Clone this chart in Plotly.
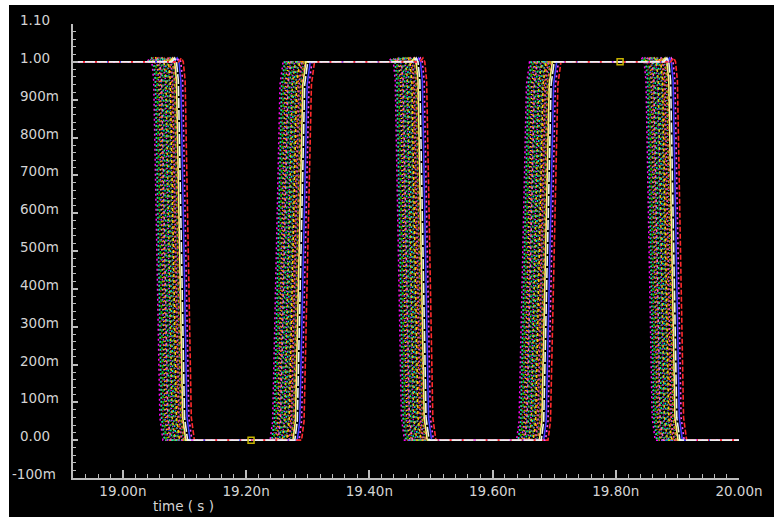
import plotly.graph_objects as go

# ---- data ----
t_start = 18.919
t_end = 20.0
edge_types = ["fall", "rise", "fall", "rise", "fall"]
edge_times = [19.047, 19.239, 19.439, 19.639, 19.846]   # ns, earliest trace
fall_dt = [-0.008, -0.003, 0.0, 0.003, 0.013, 0.018]
fall_v = [1.0, 1.01, 1.0, 0.95, 0.06, 0.0]
rise_dt = [0.0, 0.004, 0.016, 0.021, 0.026]
rise_v = [0.0, 0.05, 0.94, 1.0, 1.0]

fuzz_offsets = [0.000, 0.002, 0.003, 0.005, 0.006, 0.008, 0.009, 0.011, 0.012,
                0.013, 0.015, 0.016, 0.018, 0.019, 0.020, 0.022, 0.023, 0.025,
                0.026, 0.027, 0.029, 0.030, 0.031, 0.033, 0.034, 0.036]
fuzz_colors = ["#ff00ff", "#c8b400", "#00d0d0", "#ff3030", "#00c000", "#a040ff",
               "#ffff00", "#ff8000", "#2060ff", "#ff60c0", "#00ff80", "#b06000",
               "#00a0a0", "#ff00ff", "#d0d000", "#00e0e0", "#e02020", "#40d040",
               "#8040ff", "#ffd000", "#ff7000", "#4080ff", "#ff40a0", "#20c0a0",
               "#c09000", "#ff00c0"]
fuzz_dashes = ["2px,3px", "1px,3px", "2px,2px", "1px,2px", "3px,3px"]

solid_offsets = [0.037, 0.044, 0.047, 0.051, 0.040]
solid_colors = ["#f4f46a", "#3c3cff", "#ff50ff", "#ff2a2a", "#f0f0f0"]
solid_dashes = ["solid", "solid", "2px,3px", "5px,2px", "10px,2px"]

marker_x = [19.208, 19.807]
marker_y = [0.0, 1.0]

x_tick_vals = [19.0, 19.2, 19.4, 19.6, 19.8, 20.0]
x_tick_text = ["19.00n", "19.20n", "19.40n", "19.60n", "19.80n", "20.00n"]
y_tick_vals = [-0.1, 0.0, 0.1, 0.2, 0.3, 0.4, 0.5, 0.6, 0.7, 0.8, 0.9, 1.0, 1.1]
y_tick_text = ["-100m", "0.00", "100m", "200m", "300m", "400m", "500m",
               "600m", "700m", "800m", "900m", "1.00", "1.10"]
x_title = "time ( s )"


def wave(off):
    xs = [t_start]
    ys = [1.0]
    for typ, t0 in zip(edge_types, edge_times):
        dts, vs = (fall_dt, fall_v) if typ == "fall" else (rise_dt, rise_v)
        for dt, v in zip(dts, vs):
            xs.append(t0 + off + dt)
            ys.append(v)
    xs.append(t_end)
    ys.append(0.0)
    return xs, ys


fig = go.Figure()
for i, off in enumerate(fuzz_offsets):
    xs, ys = wave(off)
    fig.add_trace(go.Scatter(x=xs, y=ys, mode="lines",
                             line=dict(color=fuzz_colors[i % len(fuzz_colors)], width=1.5,
                                       dash=fuzz_dashes[i % len(fuzz_dashes)]),
                             hoverinfo="skip", showlegend=False))
for off, c, d in zip(solid_offsets, solid_colors, solid_dashes):
    xs, ys = wave(off)
    fig.add_trace(go.Scatter(x=xs, y=ys, mode="lines",
                             line=dict(color=c, width=1.6, dash=d),
                             hoverinfo="skip", showlegend=False))
fig.add_trace(go.Scatter(x=marker_x, y=marker_y, mode="markers",
                         marker=dict(symbol="square-open", size=6, color="#c8b400",
                                     line=dict(width=1.5, color="#c8b400")),
                         hoverinfo="skip", showlegend=False))

L, R, T, B = 73, 35, 24, 39
W, H = 774, 517
pw, ph = W - L - R, H - T - B


def px_x(p):
    return (p - L) / pw


def px_y(p):
    return (H - B - p) / ph


annotations = []
for v, t in zip(y_tick_vals, y_tick_text):
    annotations.append(dict(x=px_x(10 if t.startswith("-") else 18), xref="paper",
                            y=v, yref="y", text=t, showarrow=False,
                            xanchor="left", yanchor="middle", yshift=4,
                            font=dict(family="DejaVu Sans", size=13.5, color="#d4d4d4")))
annotations.append(dict(x=px_x(183), xref="paper", y=px_y(506), yref="paper",
                        text=x_title, showarrow=False, xanchor="center", yanchor="middle",
                        font=dict(family="DejaVu Sans", size=13.5, color="#d4d4d4")))

fig.update_layout(
    width=W, height=H,
    margin=dict(l=L, r=R, t=T, b=B),
    paper_bgcolor="#ffffff",
    plot_bgcolor="#000000",
    shapes=[dict(type="rect", xref="paper", yref="paper", layer="below",
                 x0=px_x(9), x1=px_x(W + 2), y0=px_y(H + 2), y1=px_y(5),
                 fillcolor="#000000", line=dict(width=0))],
    annotations=annotations,
    xaxis=dict(range=[t_start, t_end], showgrid=False, zeroline=False,
               showline=True, linecolor="#bcbcbc", linewidth=2,
               ticks="inside", ticklen=8, tickcolor="#bcbcbc", tickwidth=1.5,
               tickvals=x_tick_vals, ticktext=x_tick_text,
               tickfont=dict(family="DejaVu Sans", size=13.5, color="#d4d4d4"),
               minor=dict(dtick=0.02, tick0=19.0, ticks="inside", ticklen=4,
                          tickcolor="#bcbcbc", tickwidth=1.2)),
    yaxis=dict(range=[-0.1, 1.1], showgrid=False, zeroline=False,
               showline=True, linecolor="#bcbcbc", linewidth=2,
               ticks="inside", ticklen=5, tickcolor="#bcbcbc", tickwidth=1.5,
               tickvals=y_tick_vals, showticklabels=False,
               minor=dict(dtick=0.02, tick0=0.0, ticks="inside", ticklen=3,
                          tickcolor="#bcbcbc", tickwidth=1.2)),
)

fig.write_html("out.html", config={"displayModeBar": False},
               post_script="document.body.style.margin='0';document.body.style.overflow='hidden';")
